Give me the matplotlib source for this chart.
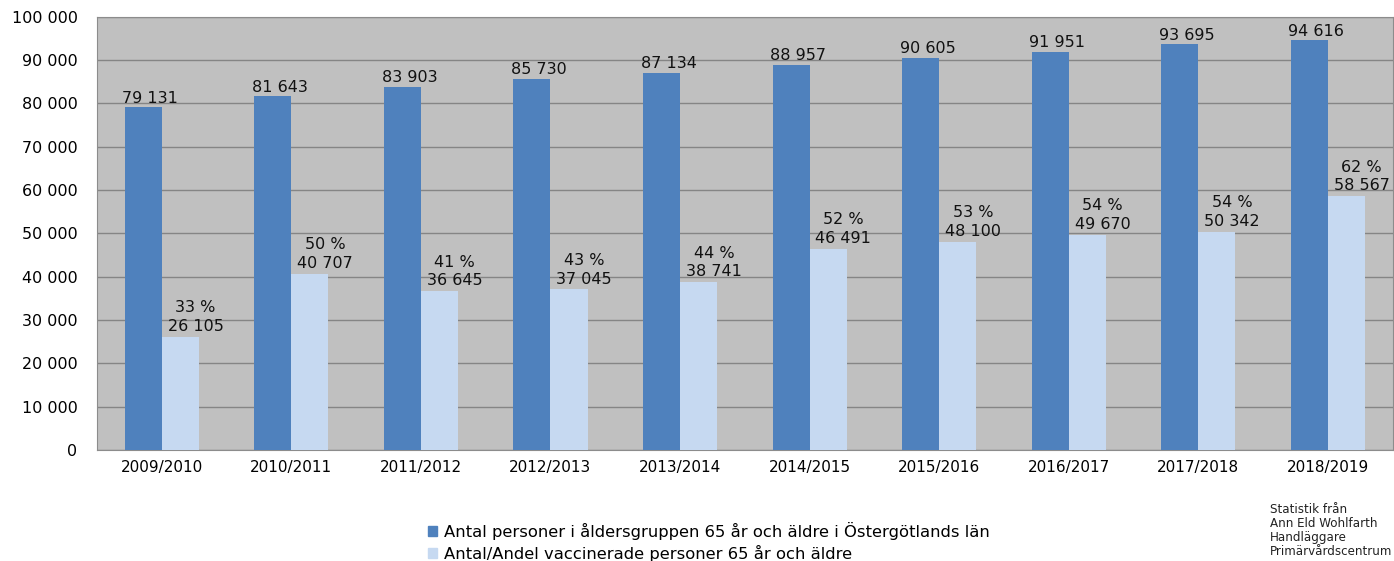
import matplotlib
matplotlib.use("Agg")
from matplotlib import pyplot as plt
import numpy as np
from matplotlib.patches import Patch

seasons = ["2009/2010", "2010/2011", "2011/2012", "2012/2013", "2013/2014",
           "2014/2015", "2015/2016", "2016/2017", "2017/2018", "2018/2019"]
population = [79131, 81643, 83903, 85730, 87134, 88957, 90605, 91951, 93695, 94616]
vaccinated = [26105, 40707, 36645, 37045, 38741, 46491, 48100, 49670, 50342, 58567]
share_pct = [33, 50, 41, 43, 44, 52, 53, 54, 54, 62]

dark_blue = "#4F81BD"
light_blue = "#C6D9F1"
bg_gray = "#C0C0C0"
grid_gray = "#858585"


def fmt(v):
    return f"{v:,}".replace(",", " ")


fig = plt.figure(figsize=(13.94, 5.61), dpi=100)
ax = fig.add_axes([0.0696, 0.198, 0.9294, 0.772])
ax.set_facecolor(bg_gray)

x = np.arange(len(seasons))
w = 0.286
ax.bar(x - w / 2, population, w, color=dark_blue, zorder=3)
ax.bar(x + w / 2, vaccinated, w, color=light_blue, zorder=3)

for i in range(len(seasons)):
    ax.annotate(fmt(population[i]), (x[i] - w / 2, population[i]),
                xytext=(5, 1), textcoords="offset points",
                ha="center", va="bottom", fontsize=11.5, color="#111111")
    ax.annotate(fmt(vaccinated[i]), (x[i] + w / 2, vaccinated[i]),
                xytext=(11, 2), textcoords="offset points",
                ha="center", va="bottom", fontsize=11.5, color="#111111")
    ax.annotate(f"{share_pct[i]} %", (x[i] + w / 2, vaccinated[i]),
                xytext=(11, 15.5), textcoords="offset points",
                ha="center", va="bottom", fontsize=11.5, color="#111111")

ax.set_xlim(-0.5, len(seasons) - 0.5)
ax.set_ylim(0, 100000)
ax.set_yticks(np.arange(0, 100001, 10000))
ax.set_yticklabels([fmt(v) for v in range(0, 100001, 10000)], fontsize=11.5)
ax.set_xticks(x)
ax.set_xticklabels(seasons, fontsize=11)
ax.tick_params(axis="y", length=0, pad=14)
ax.tick_params(axis="x", length=0, pad=7)
ax.yaxis.grid(True, color=grid_gray, linewidth=1, zorder=0)
ax.set_axisbelow(True)
for s in ["top", "right", "left", "bottom"]:
    ax.spines[s].set_color("#8C8C8C")

handles = [Patch(color=dark_blue), Patch(color=light_blue)]
labels = ["Antal personer i åldersgruppen 65 år och äldre i Östergötlands län",
          "Antal/Andel vaccinerade personer 65 år och äldre"]
fig.legend(handles, labels, loc="upper left", bbox_to_anchor=(0.302, 0.082),
           frameon=False, fontsize=11.8, handlelength=0.55, handleheight=0.55,
           handletextpad=0.45, labelspacing=0.3, borderaxespad=0)

fig.text(0.911, 0.103, "Statistik från\nAnn Eld Wohlfarth\nHandläggare\nPrimärvårdscentrum",
         fontsize=8.6, va="top", ha="left", linespacing=1.1, color="#222222")

plt.savefig("out.png", dpi=100)
